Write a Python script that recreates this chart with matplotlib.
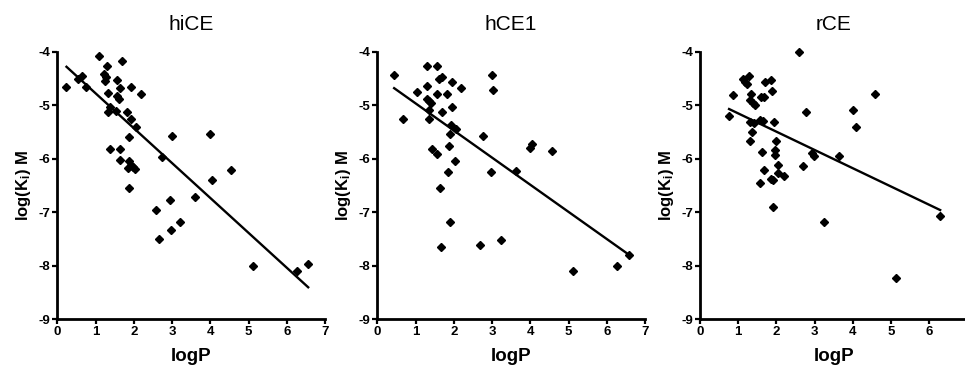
#%% Librerias
import matplotlib
matplotlib.use('Agg')
import matplotlib.pyplot as plt
import numpy as np

plt.rcParams['font.family'] = ['Liberation Sans', 'DejaVu Sans']
plt.rcParams['mathtext.fontset'] = 'custom'
plt.rcParams['mathtext.rm'] = 'Liberation Sans:bold'
plt.rcParams['mathtext.bf'] = 'Liberation Sans:bold'
plt.rcParams['mathtext.it'] = 'Liberation Sans:bold'

#%% Datos
titles = ['hiCE', 'hCE1', 'rCE']

hice_logp = [0.24, 0.55, 0.65, 0.75, 1.10, 1.29, 1.22, 1.28, 1.25, 1.33, 1.37, 1.33,
             1.53, 1.68, 1.55, 1.65, 1.57, 1.60, 1.93, 2.18, 1.81, 1.92, 2.05, 1.88,
             1.64, 1.39, 1.64, 1.88, 1.93, 1.98, 1.85, 2.02, 1.88, 2.75, 3.01, 3.98,
             4.05, 4.54, 3.61, 2.95, 2.58, 2.67, 2.98, 3.22, 5.11, 6.26, 6.56]
hice_logki = [-4.65, -4.50, -4.45, -4.65, -4.07, -4.27, -4.42, -4.48, -4.55, -4.77, -5.03, -5.12,
              -5.10, -4.17, -4.53, -4.67, -4.83, -4.89, -4.65, -4.78, -5.13, -5.26, -5.40, -5.59,
              -5.81, -5.81, -6.02, -6.05, -6.12, -6.15, -6.18, -6.20, -6.55, -5.97, -5.58, -5.54,
              -6.40, -6.21, -6.71, -6.77, -6.96, -7.50, -7.33, -7.18, -8.00, -8.10, -7.97]

hce1_logp = [0.44, 0.66, 1.05, 1.31, 1.31, 1.31, 1.36, 1.40, 1.35, 1.34, 1.42, 1.57,
             1.57, 1.62, 1.68, 1.57, 1.70, 1.83, 1.96, 2.19, 1.95, 1.93, 2.06, 1.90,
             1.88, 2.03, 1.86, 1.64, 1.90, 1.67, 2.76, 3.00, 3.02, 2.96, 2.69, 3.23,
             3.62, 3.98, 4.05, 4.57, 5.13, 6.26, 6.59]
hce1_logki = [-4.44, -5.26, -4.75, -4.26, -4.64, -4.88, -4.92, -4.95, -5.09, -5.25, -5.81, -5.91,
              -4.27, -4.50, -4.48, -4.78, -5.12, -4.78, -4.57, -4.68, -5.03, -5.36, -5.45, -5.53,
              -5.77, -6.05, -6.24, -6.54, -7.19, -7.64, -5.58, -4.44, -4.72, -6.24, -7.61, -7.51,
              -6.22, -5.79, -5.73, -5.85, -8.10, -8.00, -7.80]

rce_logp = [0.76, 0.86, 1.12, 1.18, 1.22, 1.27, 1.33, 1.31, 1.38, 1.44, 1.31, 1.40,
            1.35, 1.31, 1.57, 1.64, 1.60, 1.68, 1.70, 1.86, 1.89, 1.94, 1.61, 1.68,
            1.57, 1.96, 1.96, 1.98, 2.05, 2.03, 2.20, 1.86, 1.92, 1.90, 2.59, 2.76,
            2.69, 2.92, 2.98, 3.64, 3.23, 4.00, 4.07, 4.57, 5.12, 6.28]
rce_logki = [-5.20, -4.80, -4.51, -4.56, -4.60, -4.45, -4.78, -4.90, -4.95, -5.00, -5.32, -5.34,
             -5.49, -5.67, -5.28, -5.29, -4.84, -4.85, -4.57, -4.53, -4.73, -5.31, -5.88, -6.21,
             -6.45, -5.84, -5.93, -5.67, -6.12, -6.27, -6.32, -6.37, -6.39, -6.90, -4.00, -5.13,
             -6.13, -5.90, -5.94, -5.95, -7.19, -5.09, -5.40, -4.78, -8.23, -7.07]

# regresion lineal mostrada (pendiente, ordenada)
fit_slope = [-0.652, -0.507, -0.342]
fit_intercept = [-4.124, -4.457, -4.81]

x_ticks = [0, 1, 2, 3, 4, 5, 6, 7]
y_ticks = [-9, -8, -7, -6, -5, -4]

datos = [(hice_logp, hice_logki), (hce1_logp, hce1_logki), (rce_logp, rce_logki)]

#%% Figura
fig = plt.figure(figsize=(9.65, 3.68), dpi=100)
lefts = [0.0594, 0.391, 0.7254]

for i in range(3):
    ax = fig.add_axes([lefts[i], 0.1323, 0.2774, 0.727])
    x = np.array(datos[i][0])
    y = np.array(datos[i][1])
    ax.plot(x, y, linestyle='none', marker='D', markersize=4.5, color='black', clip_on=False)
    xl = np.array([x.min(), x.max()])
    ax.plot(xl, fit_slope[i] * xl + fit_intercept[i], color='black', linewidth=1.7)

    ax.set_xlim(0, 7)
    ax.set_ylim(-9, -4)
    ax.set_xticks(x_ticks)
    etiquetas_x = [str(t) for t in x_ticks]
    if i == 2:
        # el "7" del ultimo panel queda fuera de la imagen original
        etiquetas_x[-1] = ''
    ax.set_xticklabels(etiquetas_x)
    ax.set_yticks(y_ticks)
    ax.set_yticklabels([str(t) for t in y_ticks])
    for lab in ax.get_xticklabels() + ax.get_yticklabels():
        lab.set_fontweight('bold')
        lab.set_fontsize(9.5)
    ax.tick_params(direction='out', length=3.5, width=1.6, pad=1.5)
    ax.spines['top'].set_visible(False)
    ax.spines['right'].set_visible(False)
    ax.spines['left'].set_linewidth(2)
    ax.spines['bottom'].set_linewidth(2)

    ax.set_title(titles[i], fontsize=15, pad=16)
    ax.set_xlabel('logP', fontsize=13.5, fontweight='bold', labelpad=7)
    ax.set_ylabel(r'log(K$_\mathbf{i}$) M', fontsize=12, fontweight='bold', labelpad=4)

plt.savefig('out.png', dpi=100)
